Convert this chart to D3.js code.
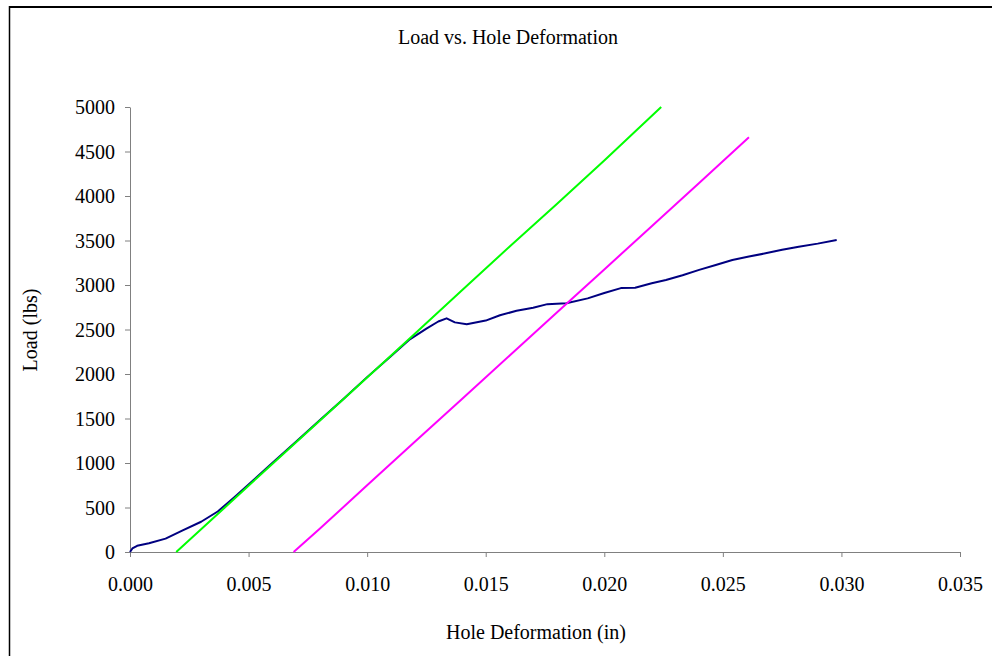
<!DOCTYPE html>
<html>
<head>
<meta charset="utf-8">
<script src="https://cdn.jsdelivr.net/npm/d3@7"></script>
<style>
  html, body { margin: 0; padding: 0; background: #fff; }
  svg { display: block; }
  text { font-family: "Liberation Serif", "Times New Roman", serif; fill: #000; }
</style>
</head>
<body>
<svg id="chart" width="992" height="656"></svg>
<script>
// Load vs. hole deformation test record (in, lbs)
const testDeformation = [0, 0.0001, 0.0003, 0.0008, 0.0015, 0.0022, 0.0030, 0.0037, 0.0044, 0.0052,
  0.0060, 0.0070, 0.0080, 0.0090, 0.0100, 0.0110, 0.0118, 0.0125, 0.0130, 0.01335, 0.0137, 0.0142,
  0.0150, 0.0156, 0.0163, 0.0170, 0.0176, 0.0184, 0.0193, 0.0200, 0.0207, 0.0213, 0.0220, 0.0226,
  0.0233, 0.0240, 0.0247, 0.0254, 0.0261, 0.0268, 0.0275, 0.0282, 0.0290, 0.0298];
const testLoad = [0, 40, 70, 98, 150, 240, 340, 455, 615, 805,
  1000, 1240, 1480, 1720, 1965, 2200, 2390, 2510, 2590, 2625, 2580, 2560,
  2600, 2660, 2710, 2745, 2785, 2795, 2850, 2910, 2965, 2970, 3020, 3056,
  3110, 3170, 3225, 3280, 3320, 3356, 3395, 3430, 3465, 3505];

// Elastic slope line
const slopeDeformation = [0.00195, 0.0040, 0.0060, 0.0080, 0.0100, 0.0120, 0.0140, 0.0160, 0.0180, 0.0200, 0.0224];
const slopeLoad = [0, 500, 990, 1475, 1960, 2450, 2940, 3430, 3910, 4400, 5000];

// Offset line
const offsetDeformation = [0.0069, 0.0080, 0.0100, 0.0120, 0.0140, 0.0160, 0.0180, 0.0200, 0.0220, 0.0240, 0.0261];
const offsetLoad = [0, 260, 750, 1235, 1720, 2205, 2690, 3175, 3660, 4145, 4660];

const xTicks = [0, 0.005, 0.010, 0.015, 0.020, 0.025, 0.030, 0.035];
const yTicks = [0, 500, 1000, 1500, 2000, 2500, 3000, 3500, 4000, 4500, 5000];

const svg = d3.select("#chart");
const plot = { left: 130, right: 960, top: 107, bottom: 552 };

const x = d3.scaleLinear().domain([0, 0.035]).range([plot.left, plot.right]);
const y = d3.scaleLinear().domain([0, 5000]).range([plot.bottom, plot.top]);

// Outer frame
svg.append("line").attr("x1", 9).attr("x2", 992).attr("y1", 7).attr("y2", 7)
  .attr("stroke", "#000").attr("stroke-width", 2);
svg.append("line").attr("x1", 9.5).attr("x2", 9.5).attr("y1", 6).attr("y2", 656)
  .attr("stroke", "#000").attr("stroke-width", 1.5);

// Axes
const xAxis = d3.axisBottom(x).tickValues(xTicks).tickSize(5).tickSizeOuter(0)
  .tickFormat(d3.format(".3f"));
const yAxis = d3.axisLeft(y).tickValues(yTicks).tickSize(5).tickSizeOuter(0)
  .tickFormat(d3.format("d"));

const gx = svg.append("g").attr("transform", `translate(0,${plot.bottom})`).call(xAxis);
const gy = svg.append("g").attr("transform", `translate(${plot.left},0)`).call(yAxis);

[gx, gy].forEach(g => {
  g.select(".domain").attr("stroke", "#808080").attr("stroke-width", 1);
  g.selectAll(".tick line").attr("stroke", "#808080").attr("stroke-width", 1);
  g.selectAll(".tick text").attr("font-size", 20).attr("font-family", "Liberation Serif");
});
gx.selectAll(".tick text").attr("dy", "0").attr("y", 39);
gy.selectAll(".tick text").attr("x", -15).attr("dy", "0.33em");

// Series: test curve underneath, reference lines drawn over it
const line = d3.line().x(d => x(d[0])).y(d => y(d[1]));
const series = [
  { xs: testDeformation, ys: testLoad, color: "#000080" },
  { xs: slopeDeformation, ys: slopeLoad, color: "#00ff00" },
  { xs: offsetDeformation, ys: offsetLoad, color: "#ff00ff" }
];
series.forEach(s => {
  svg.append("path")
    .datum(s.xs.map((v, i) => [v, s.ys[i]]))
    .attr("fill", "none")
    .attr("stroke", s.color)
    .attr("stroke-width", 2)
    .attr("stroke-linejoin", "round")
    .attr("d", line);
});

// Titles
svg.append("text").attr("x", 508).attr("y", 44).attr("text-anchor", "middle")
  .attr("font-size", 20).text("Load vs. Hole Deformation");
svg.append("text").attr("x", 536).attr("y", 639).attr("text-anchor", "middle")
  .attr("font-size", 20).text("Hole Deformation (in)");
svg.append("text").attr("transform", "translate(37,330) rotate(-90)").attr("text-anchor", "middle")
  .attr("font-size", 20).text("Load (lbs)");
</script>
</body>
</html>
